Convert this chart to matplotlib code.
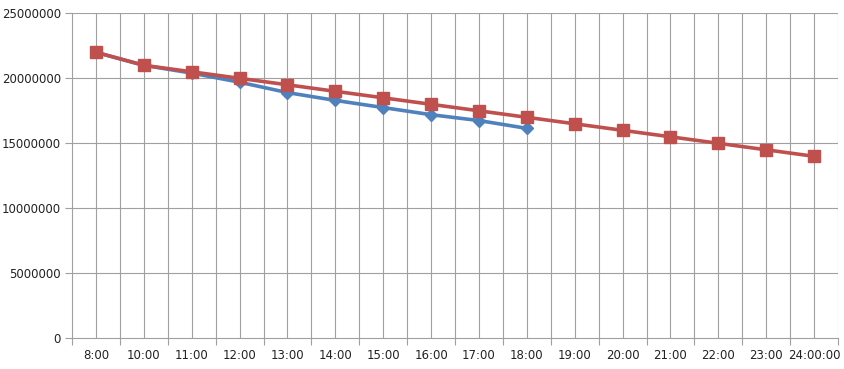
import matplotlib
matplotlib.use("Agg")
import matplotlib.pyplot as plt
import numpy as np

categories = ["8:00", "10:00", "11:00", "12:00", "13:00", "14:00", "15:00", "16:00",
              "17:00", "18:00", "19:00", "20:00", "21:00", "22:00", "23:00", "24:00:00"]
series_blue = [22000000, 21000000, 20400000, 19700000, 18900000, 18300000,
               17750000, 17200000, 16750000, 16150000]
series_red = [22000000, 21000000, 20500000, 20000000, 19500000, 19000000, 18500000,
              18000000, 17500000, 17000000, 16500000, 16000000, 15500000, 15000000,
              14500000, 14000000]
y_ticks = [0, 5000000, 10000000, 15000000, 20000000, 25000000]

fig = plt.figure(figsize=(8.44, 3.69), dpi=100)
ax = fig.add_axes([72/844, 1 - 338.3/369, (838 - 72)/844, (338.3 - 13.3)/369])

n = len(categories)
x = np.arange(n)
grid_col = "#a0a0a0"
glw = 0.8

# vertical gridlines at category centers and boundaries
for v in np.arange(0, n, 0.5):
    ax.axvline(v, color=grid_col, lw=glw, zorder=0)
for yv in y_ticks[1:]:
    ax.axhline(yv, color=grid_col, lw=glw, zorder=0)

ax.plot(x[:len(series_blue)], series_blue, color="#4F81BD", lw=2.6,
        marker="D", markersize=6, markeredgecolor="#4F81BD", zorder=3)
ax.plot(x, series_red, color="#C0504D", lw=2.6,
        marker="s", markersize=8, markeredgecolor="#C0504D", zorder=4)

ax.set_xlim(-0.5, n - 0.5)
ax.set_ylim(0, 25000000)

ax.set_yticks(y_ticks)
ax.set_yticklabels([str(v) for v in y_ticks], fontsize=8.5, color="#222222")
ax.tick_params(axis="y", length=5, width=glw, color=grid_col, pad=3)

ax.set_xticks(np.arange(-0.5, n, 1.0))
ax.set_xticklabels([])
ax.tick_params(axis="x", which="major", length=5, width=glw, color=grid_col)
ax.set_xticks(x, minor=True)
ax.set_xticklabels(categories, minor=True, fontsize=8.5, color="#222222")
ax.tick_params(axis="x", which="minor", length=0, pad=8)

for s in ["top", "right"]:
    ax.spines[s].set_visible(False)
ax.spines["left"].set_color(grid_col)
ax.spines["bottom"].set_color(grid_col)
ax.spines["left"].set_linewidth(glw)
ax.spines["bottom"].set_linewidth(glw)

fig.savefig("out.png", dpi=100)
